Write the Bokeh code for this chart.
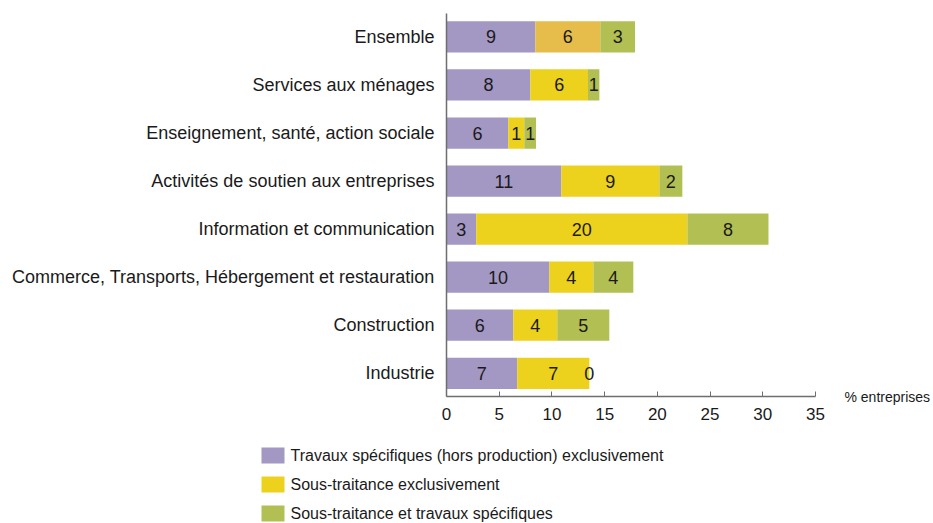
import numpy as np
from bokeh.plotting import figure
from bokeh.layouts import column
from bokeh.models import ColumnDataSource, Range1d, FixedTicker, Label
from bokeh.core.properties import value
from bokeh.embed import file_html
from bokeh.resources import INLINE

categories = [
    "Ensemble",
    "Services aux ménages",
    "Enseignement, santé, action sociale",
    "Activités de soutien aux entreprises",
    "Information et communication",
    "Commerce, Transports, Hébergement et restauration",
    "Construction",
    "Industrie",
]
travaux = [8.42, 7.95, 5.86, 10.89, 2.82, 9.75, 6.33, 6.71]
sous_traitance = [6.17, 5.47, 1.52, 9.30, 20.03, 4.18, 4.18, 6.84]
mixte = [3.29, 1.08, 1.11, 2.18, 7.69, 3.79, 4.93, 0.0]
travaux_labels = ["9", "8", "6", "11", "3", "10", "6", "7"]
sous_traitance_labels = ["6", "6", "1", "9", "20", "4", "4", "7"]
mixte_labels = ["3", "1", "1", "2", "8", "4", "5", "0"]
series_names = [
    "Travaux spécifiques (hors production) exclusivement",
    "Sous-traitance exclusivement",
    "Sous-traitance et travaux spécifiques",
]
x_ticks = [0, 5, 10, 15, 20, 25, 30, 35]
x_title = "% entreprises"

FONT = "Liberation Sans"
PURPLE = "#A397C3"
YELLOW = "#ECD11D"
ORANGE = "#E6BC4B"
GREEN = "#B2BF53"
AXIS = "#6e6e6e"
TXT = "#1a1a1a"

n = len(categories)
ypos = [n - 1 - i for i in range(n)]

W = 933
H_MAIN = 436
H_LEG = 87

p = figure(
    width=W, height=H_MAIN,
    output_backend="svg", toolbar_location=None,
    x_range=Range1d(0, 35), y_range=Range1d(-0.483, 7.4875),
    min_border_left=446, min_border_right=118,
    min_border_top=13, min_border_bottom=40,
)
p.frame_align = False
p.outline_line_color = None
p.xgrid.visible = False
p.ygrid.visible = False

series_vals = [travaux, sous_traitance, mixte]
series_lbls = [travaux_labels, sous_traitance_labels, mixte_labels]
series_colors = [
    [PURPLE] * n,
    [ORANGE] + [YELLOW] * (n - 1),
    [GREEN] * n,
]
left = np.zeros(n)
for vals, lbls, cols in zip(series_vals, series_lbls, series_colors):
    v = np.array(vals, dtype=float)
    right = left + v
    src = ColumnDataSource(dict(
        y=ypos, left=left.copy(), right=right.copy(),
        mid=(left + right) / 2, label=lbls, color=cols,
    ))
    p.hbar(y="y", left="left", right="right", height=0.65, source=src,
           fill_color="color", line_color=None)
    p.text(x="mid", y="y", text="label", source=src,
           text_align="center", text_baseline="middle",
           text_font=value(FONT), text_font_size="18px", text_color=TXT)
    left = right

# axes
p.xaxis.ticker = FixedTicker(ticks=x_ticks)
p.xaxis.axis_line_color = AXIS
p.xaxis.axis_line_width = 1.5
p.xaxis.major_tick_in = 5
p.xaxis.major_tick_out = 0
p.xaxis.major_tick_line_color = AXIS
p.xaxis.minor_tick_line_color = None
p.xaxis.major_label_standoff = 11
p.xaxis.major_label_text_font = FONT
p.xaxis.major_label_text_font_size = "17px"
p.xaxis.major_label_text_color = TXT

p.yaxis.ticker = FixedTicker(ticks=ypos)
p.yaxis.major_label_overrides = {y: c for y, c in zip(ypos, categories)}
p.yaxis.axis_line_color = AXIS
p.yaxis.axis_line_width = 1.5
p.yaxis.major_tick_line_color = None
p.yaxis.minor_tick_line_color = None
p.yaxis.major_tick_in = 0
p.yaxis.major_tick_out = 0
p.yaxis.major_label_standoff = 12
p.yaxis.major_label_text_font = FONT
p.yaxis.major_label_text_font_size = "18px"
p.yaxis.major_label_text_color = TXT

p.add_layout(Label(x=35, y=-0.483, x_offset=29, text=x_title,
                   text_baseline="middle", text_align="left",
                   text_font=FONT, text_font_size="14px", text_color=TXT), "right")

# legend panel (pixel-like coordinates, y downward)
leg = figure(
    width=W, height=H_LEG,
    output_backend="svg", toolbar_location=None,
    x_range=Range1d(0, W), y_range=Range1d(H_LEG, 0),
    x_axis_type=None, y_axis_type=None,
    min_border_left=0, min_border_right=0, min_border_top=0, min_border_bottom=0,
)
leg.frame_align = False
leg.outline_line_color = None
leg.xgrid.visible = False
leg.ygrid.visible = False

row_top = [11, 40, 69]
sw_left, sw_w, sw_h, txt_gap = 261, 23, 16, 6
leg_src = ColumnDataSource(dict(
    left=[sw_left] * 3,
    right=[sw_left + sw_w] * 3,
    top=row_top,
    bottom=[t + sw_h for t in row_top],
    ty=[t + sw_h / 2 for t in row_top],
    tx=[sw_left + sw_w + txt_gap] * 3,
    color=[PURPLE, YELLOW, GREEN],
    name=series_names,
))
leg.quad(left="left", right="right", top="top", bottom="bottom",
         fill_color="color", line_color=None, source=leg_src)
leg.text(x="tx", y="ty", text="name", source=leg_src,
         text_align="left", text_baseline="middle",
         text_font=value(FONT), text_font_size="16px", text_color=TXT)

layout = column(p, leg, spacing=0)
open("out.html", "w").write(file_html(layout, INLINE))
